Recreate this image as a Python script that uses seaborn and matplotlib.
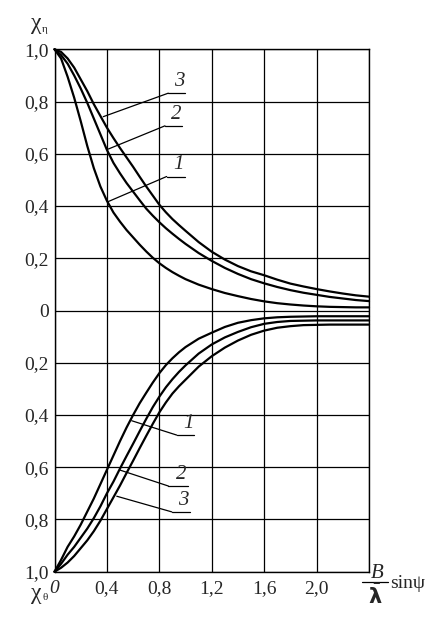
import pandas as pd
import matplotlib
matplotlib.use("Agg")
import matplotlib.pyplot as plt
import seaborn as sns

# values
x_top = [0, 0.05, 0.1, 0.15, 0.2, 0.25, 0.3, 0.35, 0.4, 0.45, 0.5, 0.55, 0.6, 0.65, 0.7,
         0.75, 0.8, 0.85, 0.9, 0.95, 1.0, 1.1, 1.2, 1.3, 1.4, 1.5, 1.6, 1.7, 1.8, 1.9,
         2.0, 2.1, 2.2, 2.3, 2.4]
eta_1 = [1.0, 0.965, 0.895, 0.815, 0.725, 0.63, 0.545, 0.475, 0.42, 0.375, 0.34, 0.308,
         0.28, 0.252, 0.226, 0.202, 0.181, 0.163, 0.147, 0.133, 0.12, 0.099, 0.082,
         0.067, 0.055, 0.044, 0.035, 0.028, 0.023, 0.019, 0.016, 0.014, 0.013, 0.012, 0.012]
eta_2 = [1.0, 0.978, 0.945, 0.90, 0.85, 0.795, 0.735, 0.675, 0.615, 0.565, 0.525, 0.488,
         0.455, 0.422, 0.39, 0.363, 0.338, 0.315, 0.294, 0.274, 0.255, 0.22, 0.19,
         0.163, 0.14, 0.12, 0.104, 0.09, 0.078, 0.068, 0.06, 0.052, 0.046, 0.04, 0.036]
eta_3 = [1.0, 0.99, 0.965, 0.93, 0.885, 0.84, 0.79, 0.745, 0.70, 0.66, 0.622, 0.586,
         0.55, 0.512, 0.475, 0.44, 0.405, 0.376, 0.35, 0.327, 0.305, 0.262, 0.225,
         0.195, 0.17, 0.15, 0.135, 0.118, 0.103, 0.092, 0.082, 0.073, 0.065, 0.058, 0.053]

x_bot = x_top
theta_1 = [1.0, 0.955, 0.905, 0.865, 0.82, 0.77, 0.72, 0.665, 0.61, 0.555, 0.50, 0.448,
           0.40, 0.355, 0.315, 0.276, 0.24, 0.209, 0.183, 0.16, 0.14, 0.108, 0.085,
           0.063, 0.047, 0.037, 0.03, 0.026, 0.024, 0.023, 0.022, 0.022, 0.022, 0.022, 0.022]
theta_2 = [1.0, 0.97, 0.935, 0.905, 0.87, 0.835, 0.795, 0.75, 0.70, 0.655, 0.605, 0.557,
           0.51, 0.462, 0.415, 0.37, 0.33, 0.294, 0.263, 0.235, 0.21, 0.165, 0.13,
           0.103, 0.082, 0.064, 0.051, 0.044, 0.04, 0.039, 0.038, 0.038, 0.038, 0.038, 0.038]
theta_3 = [1.0, 0.985, 0.965, 0.94, 0.91, 0.88, 0.845, 0.805, 0.76, 0.715, 0.67, 0.622,
           0.575, 0.527, 0.48, 0.434, 0.39, 0.352, 0.318, 0.29, 0.265, 0.215, 0.175,
           0.142, 0.115, 0.093, 0.077, 0.066, 0.06, 0.056, 0.055, 0.054, 0.054, 0.054, 0.054]

x_ticks = [0, 0.4, 0.8, 1.2, 1.6, 2.0, 2.4]
x_labels = ["0", "0,4", "0,8", "1,2", "1,6", "2,0", ""]
y_ticks = [-1.0, -0.8, -0.6, -0.4, -0.2, 0, 0.2, 0.4, 0.6, 0.8, 1.0]
y_labels = ["1,0", "0,8", "0,6", "0,4", "0,2", "0", "0,2", "0,4", "0,6", "0,8", "1,0"]

# long table, lower half (chi_theta) is drawn downwards
parts = []
for name, vals in [("eta1", eta_1), ("eta2", eta_2), ("eta3", eta_3)]:
    parts.append(pd.DataFrame({"x": x_top, "y": vals, "curve": name}))
for name, vals in [("th1", theta_1), ("th2", theta_2), ("th3", theta_3)]:
    parts.append(pd.DataFrame({"x": x_bot, "y": [-v for v in vals], "curve": name}))
df = pd.concat(parts, ignore_index=True)

sns.set_theme(style="white")
plt.rcParams["font.family"] = ["Liberation Serif", "DejaVu Serif"]

W, H = 434, 618
fig = plt.figure(figsize=(W / 100, H / 100), dpi=100)
ax = fig.add_axes([54.5 / W, 1 - 571.7 / H, (369 - 54.5) / W, (571.7 - 49.3) / H])

sns.lineplot(data=df, x="x", y="y", units="curve", estimator=None, sort=False,
             color="black", lw=1.6, ax=ax, clip_on=False)

ax.set_xlim(0, 2.4)
ax.set_ylim(-1, 1)
ax.set_xticks(x_ticks)
ax.set_xticklabels(x_labels, fontsize=14)
ax.set_yticks(y_ticks)
ax.set_yticklabels(y_labels, fontsize=14)
ax.tick_params(length=0, pad=4)
ax.tick_params(axis="x", pad=6)
ax.xaxis.get_ticklabels()[0].set_style("italic")
ax.grid(True, color="black", lw=0.9)
ax.set_axisbelow(True)
for sp in ax.spines.values():
    sp.set_color("black")
    sp.set_linewidth(1.0)
ax.set_xlabel("")
ax.set_ylabel("")

# curve numbers with leaders and underline
labels = [
    ("3", (0.372, 0.742), (0.868, 0.832), 0.996),
    ("2", (0.41, 0.618), (0.843, 0.707), 0.971),
    ("1", (0.41, 0.417), (0.856, 0.513), 0.996),
    ("1", (0.589, -0.422), (0.933, -0.477), 1.067),
    ("2", (0.50, -0.611), (0.869, -0.672), 1.021),
    ("3", (0.475, -0.711), (0.895, -0.771), 1.034),
]
for txt, pt, knee, xend in labels:
    ax.annotate("", xy=pt, xytext=knee,
                arrowprops=dict(arrowstyle="-", color="black", lw=0.9,
                                shrinkA=0, shrinkB=0))
    ax.plot([knee[0], xend], [knee[1], knee[1]], color="black", lw=0.9)
    ax.text((knee[0] + xend) / 2 + 0.02, knee[1] + 0.008, txt, fontsize=15,
            style="italic", ha="center", va="bottom")

# axis titles
fig.text(36 / W, 1 - 24 / H, "χ", fontsize=17, ha="center", va="center")
fig.text(45 / W, 1 - 29 / H, "η", fontsize=8, ha="center", va="center")
fig.text(36 / W, 1 - 594 / H, "χ", fontsize=17, ha="center", va="center")
fig.text(45 / W, 1 - 598 / H, "θ", fontsize=8, ha="center", va="center")

fig.text(377 / W, 1 - 573 / H, "B", fontsize=15, style="italic", ha="center", va="center")
fig.add_artist(plt.Line2D([362 / W, 388 / W], [1 - 582 / H, 1 - 582 / H],
                          color="black", lw=0.9, transform=fig.transFigure))
fig.text(375 / W, 1 - 597 / H, r"$\bar{\mathbf{\lambda}}$", fontsize=15,
         ha="center", va="center")
fig.text(390 / W, 1 - 584 / H, "sinψ", fontsize=14, ha="left", va="center")

fig.savefig("out.png", dpi=100, facecolor="white")
